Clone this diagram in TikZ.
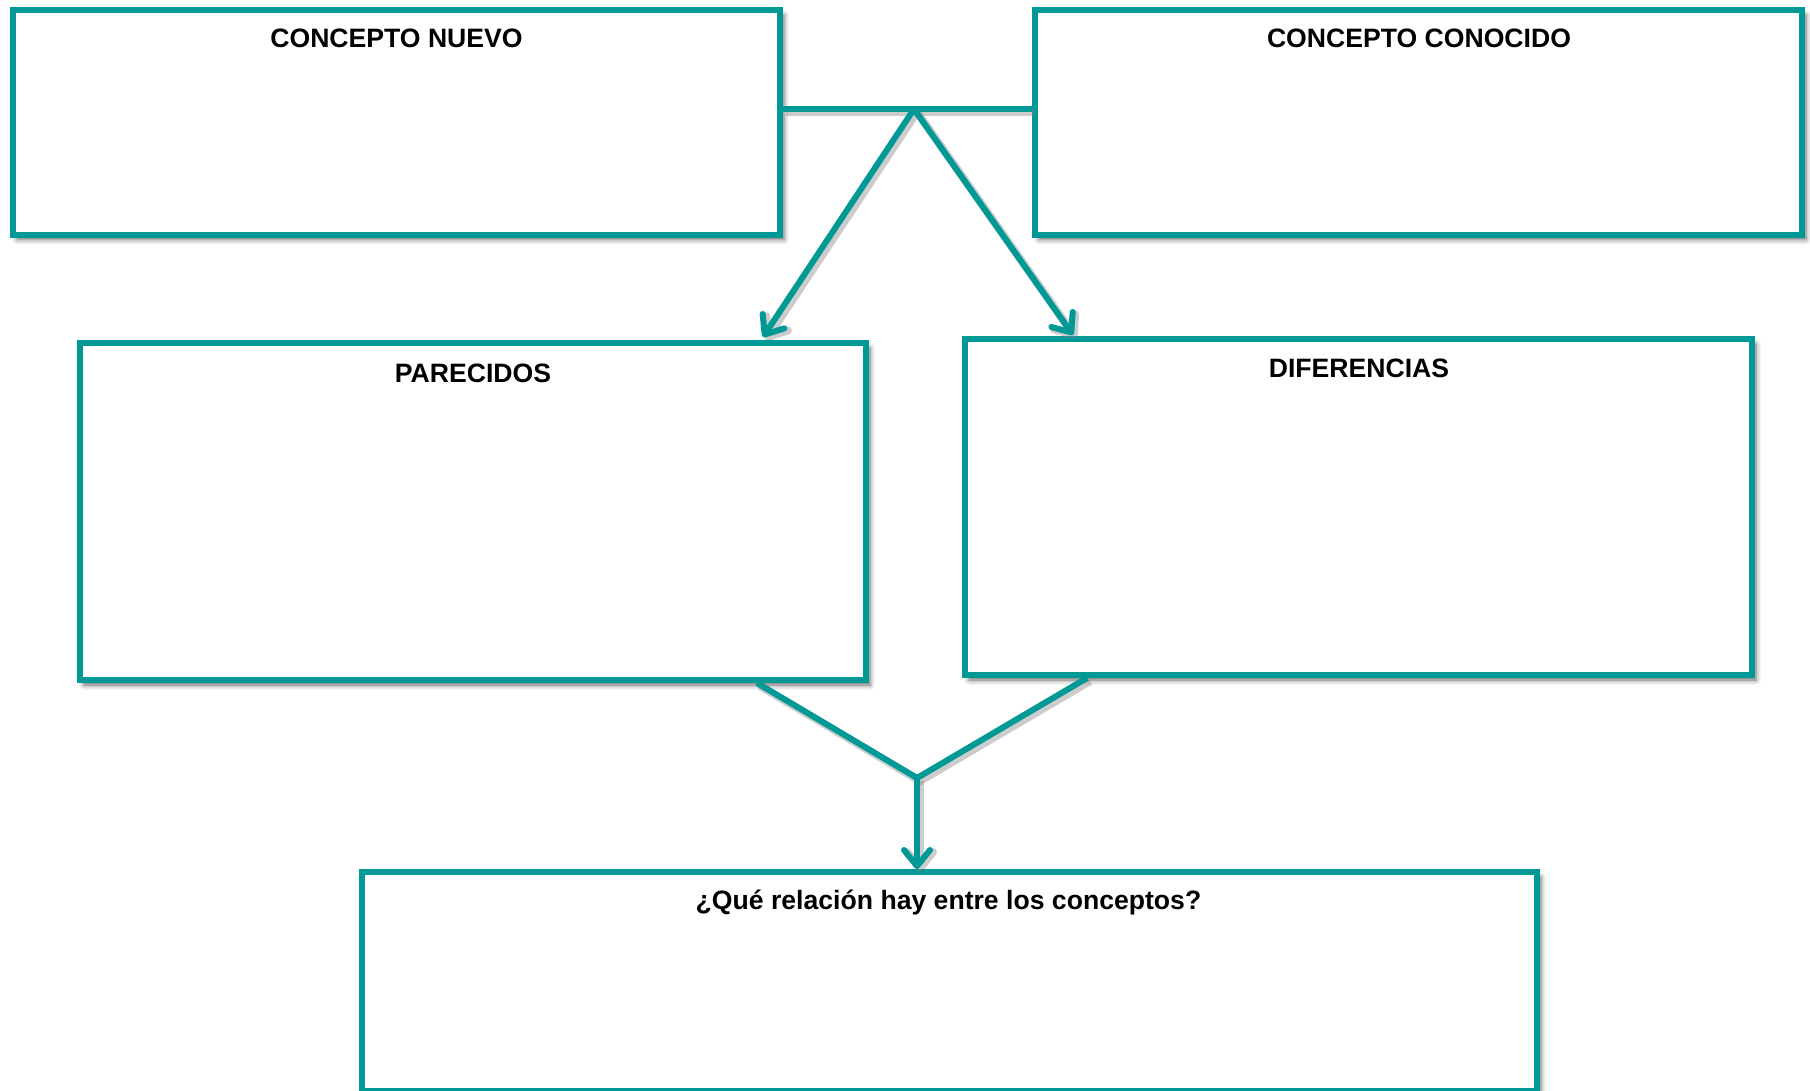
\documentclass[tikz,border=0pt]{standalone}
\usepackage{fontspec}
\setmainfont{Liberation Sans}
\usetikzlibrary{arrows.meta,shadows.blur}
\definecolor{tealline}{RGB}{0,153,150}
\begin{document}
\begin{tikzpicture}[x=1pt,y=-1pt,
  box/.style={draw=tealline, line width=6pt, fill=white, rectangle, inner sep=0pt,
    blur shadow={shadow xshift=4pt, shadow yshift=-5pt, shadow blur radius=5pt, shadow opacity=60}},
  title/.style={anchor=base, inner sep=0pt, font=\fontsize{26.6}{32}\selectfont\bfseries},
  link/.style={draw=tealline, line width=6pt, line join=miter,
    preaction={draw=black!50, opacity=0.4, line width=8pt,
      transform canvas={shift={(3pt,-3pt)}}}},
  arrowlink/.style={link, -{Straight Barb[length=16pt,width=26pt,round]}}
]
\useasboundingbox (0,0) rectangle (1810,1090);

% boxes
\node[box, minimum width=767pt, minimum height=224.5pt] (nuevo) at (396.5,122.25) {};
\node[box, minimum width=767pt, minimum height=224.5pt] (conocido) at (1418.5,122.25) {};
\node[box, minimum width=786pt, minimum height=337pt] (parecidos) at (473,511.5) {};
\node[box, minimum width=787pt, minimum height=336pt] (diferencias) at (1358.5,507) {};
\node[box, minimum width=1175pt, minimum height=219pt] (relacion) at (949.5,981.5) {};

% titles
\node[title] (tnuevo) at (396.5,47) {CONCEPTO NUEVO};
\node[title] (tconocido) at (1419,47) {CONCEPTO CONOCIDO};
\node[title] (tparecidos) at (473,382) {PARECIDOS};
\node[title] (tdiferencias) at (1359,377) {DIFERENCIAS};
\node[title] (trelacion) at (948.5,909) {¿Qué relación hay entre los conceptos?};

% junction points
\coordinate (top) at (914,109);
\coordinate (endl) at (763,337);
\coordinate (endr) at (1073,335);
\coordinate (bl) at (757,0);
\coordinate (br) at (1087,0);
\coordinate (bot) at (917,778);

% upper connectors
\draw[link] (nuevo.east |- top) -- (conocido.west |- top);
\draw[arrowlink] (top) -- (endl);
\draw[arrowlink] (top) -- (endr);

% lower connectors
\draw[link] (parecidos.south -| bl) -- (bot) -- (diferencias.south -| br);
\draw[arrowlink] (bot) -- (bot |- relacion.north);
\end{tikzpicture}
\end{document}
